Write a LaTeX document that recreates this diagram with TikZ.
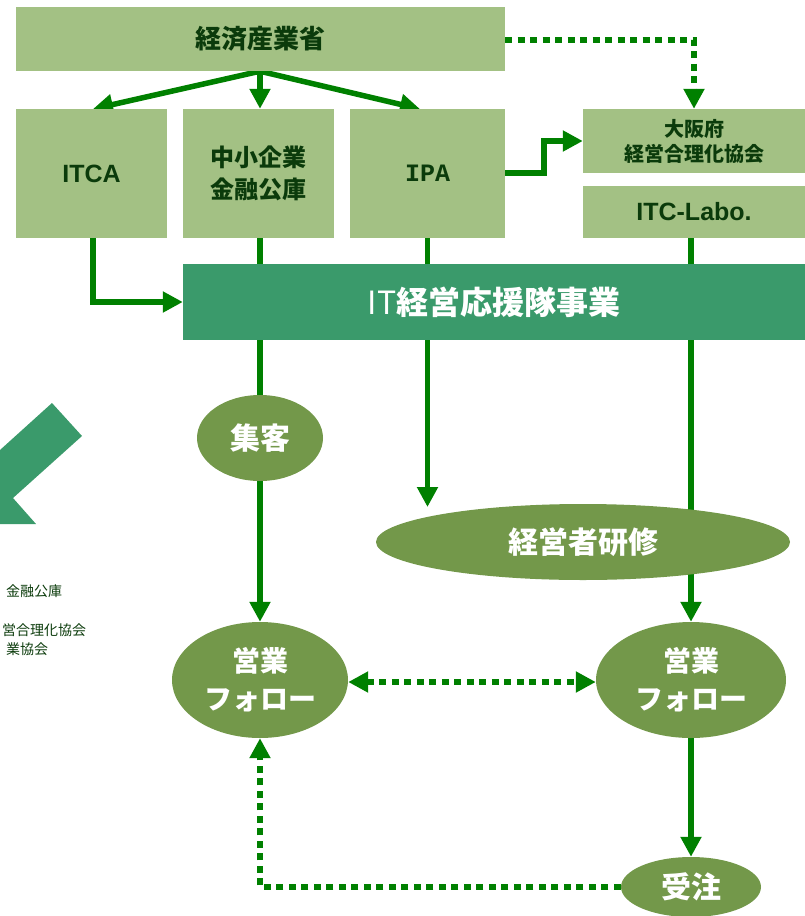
\documentclass[tikz,border=0pt]{standalone}
\usepackage{fontspec}
\setmainfont{Noto Sans CJK JP}
\newfontfamily\arialfont{Liberation Sans}
\newfontfamily\monofont{Liberation Mono}
\usetikzlibrary{arrows.meta,shapes.geometric,backgrounds}
\definecolor{boxgreen}{HTML}{A3C184}
\definecolor{bandgreen}{HTML}{3A9A6B}
\definecolor{ovalgreen}{HTML}{73984A}
\definecolor{linegreen}{HTML}{008000}
\definecolor{textgreen}{HTML}{0B3B0B}
\newcommand{\fs}[2]{\fontsize{#1}{#2}\selectfont}

\begin{document}
\begin{tikzpicture}[x=1pt,y=-1pt,
	every node/.style={inner sep=0pt, align=center},
	orgbox/.style={fill=boxgreen, text=textgreen, font=\bfseries\fs{24}{32}},
	oval/.style={ellipse, fill=ovalgreen, text=white, font=\bfseries\fs{30}{38}},
	flow/.style={draw=linegreen, line width=5.5pt, -{Triangle[length=20pt,width=20pt]}},
	link/.style={draw=linegreen, line width=5.5pt},
	dots/.style={draw=linegreen, line width=6pt, dash pattern=on 7pt off 5.5pt}]
	\useasboundingbox (0,0) rectangle (805,916);
	\clip (0,0) rectangle (805,916);
	%% boxes of the top rows
	\node[orgbox, minimum width=489pt, minimum height=64pt, font=\bfseries\fs{26}{30}] (meti) at (260.5,39) {経済産業省};
	\node[orgbox, minimum width=151pt, minimum height=129pt, font=\arialfont\bfseries\fs{25}{30}] (itca) at (91.5,173.5) {ITCA};
	\node[orgbox, minimum width=151pt, minimum height=129pt] (chusho) at (258.5,173.5) {中小企業\\金融公庫};
	\node[orgbox, minimum width=155pt, minimum height=129pt, font=\monofont\bfseries\fs{25}{30}] (ipa) at (427.5,173.5) {IPA};
	\node[orgbox, minimum width=222pt, minimum height=64pt, font=\bfseries\fs{20}{25}] (osaka) at (694,141) {大阪府\\経営合理化協会};
	\node[orgbox, minimum width=222pt, minimum height=52pt, font=\arialfont\bfseries\fs{25}{30}] (labo) at (694,212) {ITC-Labo.};
	%% the band
	\node[fill=bandgreen, text=white, minimum width=622pt, minimum height=76pt, font=\bfseries\fs{32}{36}] (band) at (494,302) {{\mdseries IT}経営応援隊事業};
	%% ovals
	\node[oval, minimum width=126pt, minimum height=86pt] (shukyaku) at (260,438) {集客};
	\node[oval, minimum width=414pt, minimum height=76pt] (kenshu) at (583,542) {経営者研修};
	\node[oval, minimum width=176pt, minimum height=116pt, font=\bfseries\fs{28}{38}] (eigyoL) at (260,680) {営業\\フォロー};
	\node[oval, minimum width=190pt, minimum height=116pt, font=\bfseries\fs{28}{38}] (eigyoR) at (691,680) {営業\\フォロー};
	\node[oval, minimum width=140pt, minimum height=60pt] (juchu) at (691,887) {受注};
	%% cut off part on the left
	\fill[bandgreen] (0,450) -- (52,403) -- (82,436) -- (13,498) -- (36,524) -- (0,524) -- cycle;
	\node[anchor=west, text=textgreen, font=\fs{14}{19}] (leftA) at (6,591) {金融公庫};
	\node[anchor=west, text=textgreen, font=\fs{14}{19}] (leftB) at (2,630) {営合理化協会};
	\node[anchor=west, text=textgreen, font=\fs{14}{19}] (leftC) at (6,649) {業協会};
	%% connectors
	\begin{pgfonlayer}{background}
		\coordinate (split) at (meti.south -| shukyaku);
		\draw[flow] (split) -- (93,109);
		\draw[flow] (split) -- (chusho.north -| shukyaku);
		\draw[flow] (split) -- (420,109);
		\draw[dots, -{Triangle[length=20pt,width=20pt]}] (meti.east |- 0,40) -| (osaka.north);
		\draw[flow] (ipa.east |- 0,173) -- (544,173) |- (osaka.west);
		\draw[flow] (93,238) |- (band.west);
		\draw[link] (chusho.south -| shukyaku) -- (shukyaku.north);
		\draw[flow] (shukyaku.south) -- (eigyoL.north);
		\coordinate (kenshutop) at (ipa.south |- 0,507);
		\draw[flow] (ipa.south) -- (kenshutop);
		\draw[flow] (labo.south -| eigyoR.north) -- (eigyoR.north);
		\draw[flow] (eigyoR.south) -- (juchu.north);
		\draw[dots, {Triangle[length=20pt,width=20pt]}-{Triangle[length=20pt,width=20pt]}] (eigyoL.east |- 0,682) -- (eigyoR.west |- 0,682);
		\draw[dots, -{Triangle[length=20pt,width=20pt]}] (juchu.west) -| (eigyoL.south);
	\end{pgfonlayer}
\end{tikzpicture}
\end{document}
